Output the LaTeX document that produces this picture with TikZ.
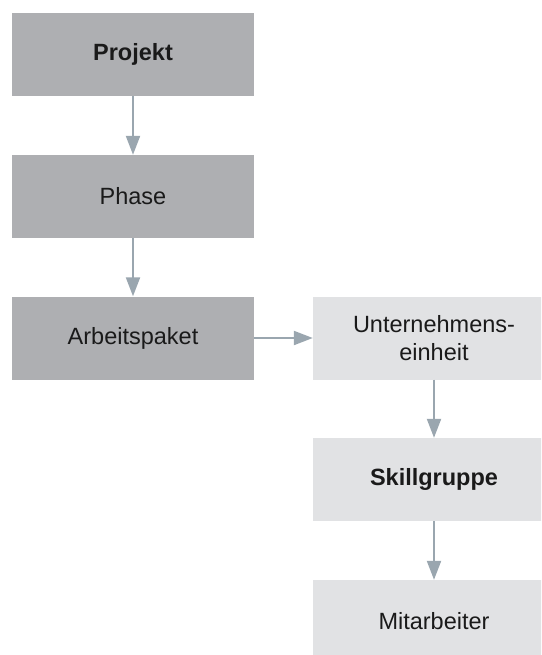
\documentclass[tikz,border=0pt]{standalone}
\usepackage{fontspec}
\setmainfont{Liberation Sans}
\usetikzlibrary{arrows.meta}
\definecolor{boxdark}{HTML}{AEAFB2}
\definecolor{boxlight}{HTML}{E1E2E4}
\definecolor{linkcol}{HTML}{9AA6AF}
\definecolor{txt}{HTML}{1A1A1A}
\begin{document}
\begin{tikzpicture}[x=1pt,y=-1pt,
  blk/.style={rectangle, minimum width=242pt, minimum height=83pt, inner sep=0pt,
    text=txt, font=\fontsize{23.5}{28}\selectfont, align=center},
  darkblk/.style={blk, fill=boxdark},
  lightblk/.style={blk, fill=boxlight},
  link/.style={draw=linkcol, line width=2.2pt,
    -{Triangle[length=19pt,width=14pt]}}]
  \useasboundingbox (0,0) rectangle (541,655);
  \clip (0,0) rectangle (541,655);
  \node[darkblk] (proj) at (133,54.5) {\textbf{Projekt}};
  \node[darkblk] (phase) at (133,196.5) {Phase};
  \node[darkblk] (ap) at (133,338) {Arbeitspaket};
  \node[lightblk] (ue) at (434,338) {Unternehmens-\\einheit};
  \node[lightblk] (skill) at (434,479.5) {\textbf{Skillgruppe}};
  \node[lightblk] (ma) at (434,621.5) {Mitarbeiter};
  \draw[link] (proj) -- (phase);
  \draw[link] (phase) -- (ap);
  \draw[link] (ap) -- (ue);
  \draw[link] (ue) -- (skill);
  \draw[link] (skill) -- (ma);
\end{tikzpicture}
\end{document}
